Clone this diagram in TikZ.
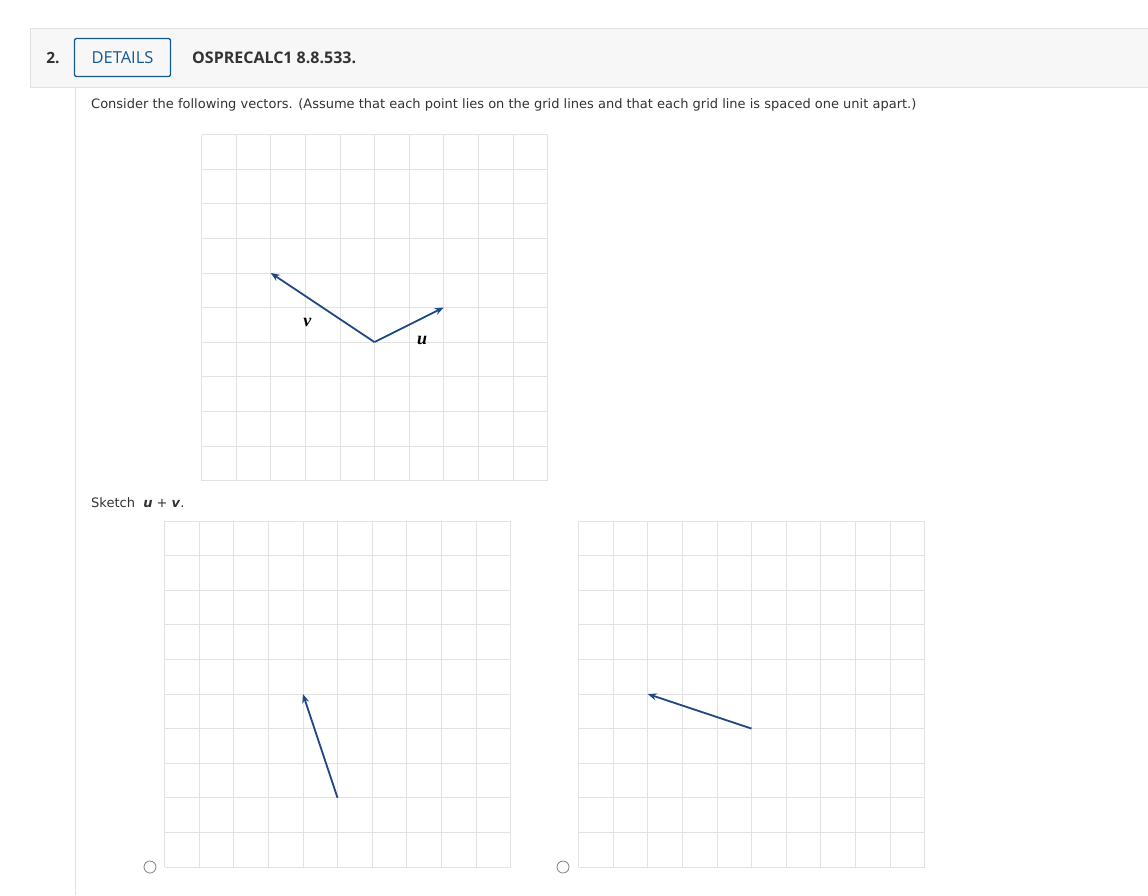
\documentclass[tikz,border=0pt]{standalone}
\usepackage{fontspec}
\setmainfont{DejaVu Sans}
\newfontfamily\headfont{Open Sans}
\newfontfamily\vecfont{Liberation Serif}
\usetikzlibrary{arrows.meta}
\definecolor{vecblue}{RGB}{31,73,128}
\definecolor{gridgray}{RGB}{226,226,226}
\definecolor{btnblue}{RGB}{20,90,145}
\definecolor{txtgray}{RGB}{51,51,51}
\definecolor{headbg}{RGB}{247,247,247}

\begin{document}
\begin{tikzpicture}[x=1pt,y=-1pt,
  gridline/.style={gridgray,line width=0.8pt},
  vec/.style={vecblue,line width=1.8pt,-{Stealth[length=9pt,width=7pt]}},
  veclabel/.style={font=\vecfont\fontsize{18}{20}\selectfont\bfseries\itshape,text=black},
  plain/.style={anchor=west,inner sep=0pt,text=txtgray,font=\fontsize{13}{15}\selectfont},
  radio/.style={circle,draw=gray,line width=0.8pt,minimum size=12pt,inner sep=0pt}]
\useasboundingbox (0,0) rectangle (1148,895);
\fill[white] (0,0) rectangle (1148,895);
% header bar
\draw[gridgray,fill=headbg] (30.5,28.5) rectangle (1150,87.5);
\node[inner sep=0pt,text=txtgray,font=\headfont\fontsize{15.5}{18}\selectfont\bfseries] (num) at (53,58) {2.};
\node[draw=btnblue,line width=1.3pt,rounded corners=2pt,minimum width=96pt,minimum height=38pt,
  text=btnblue,font=\headfont\fontsize{16.5}{18}\selectfont] (details) at (122.5,57.5) {DETAILS};
\node[anchor=west,inner sep=0pt,text=txtgray,font=\headfont\fontsize{16}{18}\selectfont\bfseries] (code) at (192,58) {OSPRECALC1 8.8.533.};
\draw[gridgray] (75.5,87.5) -- (75.5,895);
\node[plain] (intro) at (91,105) {Consider the following vectors. (Assume that each point lies on the grid lines and that each grid line is spaced one unit apart.)};
\node[plain] (sketch) at (91,503) {Sketch \ \textbf{\textit{u}} + \textbf{\textit{v}}.};
% given vectors
\begin{scope}[shift={(201.5,134.5)},x=34.6pt,y=-34.6pt]
  \foreach \i in {0,...,10}{
    \draw[gridline] (\i,0) -- (\i,10);
    \draw[gridline] (0,\i) -- (10,\i);
  }
  \coordinate (o) at (5,6);
  \coordinate (u) at (7,5);
  \coordinate (v) at (2,4);
  \draw[vec] (o) -- (u);
  \draw[vec] (o) -- (v);
  \node[veclabel] (ulab) at (6.38,5.94) {u};
  \node[veclabel] (vlab) at (3.06,5.43) {v};
\end{scope}
% choice a
\begin{scope}[shift={(164.5,521)},x=34.6pt,y=-34.6pt]
  \foreach \i in {0,...,10}{
    \draw[gridline] (\i,0) -- (\i,10);
    \draw[gridline] (0,\i) -- (10,\i);
  }
  \coordinate (a0) at (5,8);
  \coordinate (a1) at (4,5);
  \draw[vec] (a0) -- (a1);
\end{scope}
% choice b
\begin{scope}[shift={(578.5,521)},x=34.6pt,y=-34.6pt]
  \foreach \i in {0,...,10}{
    \draw[gridline] (\i,0) -- (\i,10);
    \draw[gridline] (0,\i) -- (10,\i);
  }
  \coordinate (b0) at (5,6);
  \coordinate (b1) at (2,5);
  \draw[vec] (b0) -- (b1);
\end{scope}
\node[radio] (opta) at (150,867) {};
\node[radio] (optb) at (563,867) {};
\end{tikzpicture}
\end{document}
